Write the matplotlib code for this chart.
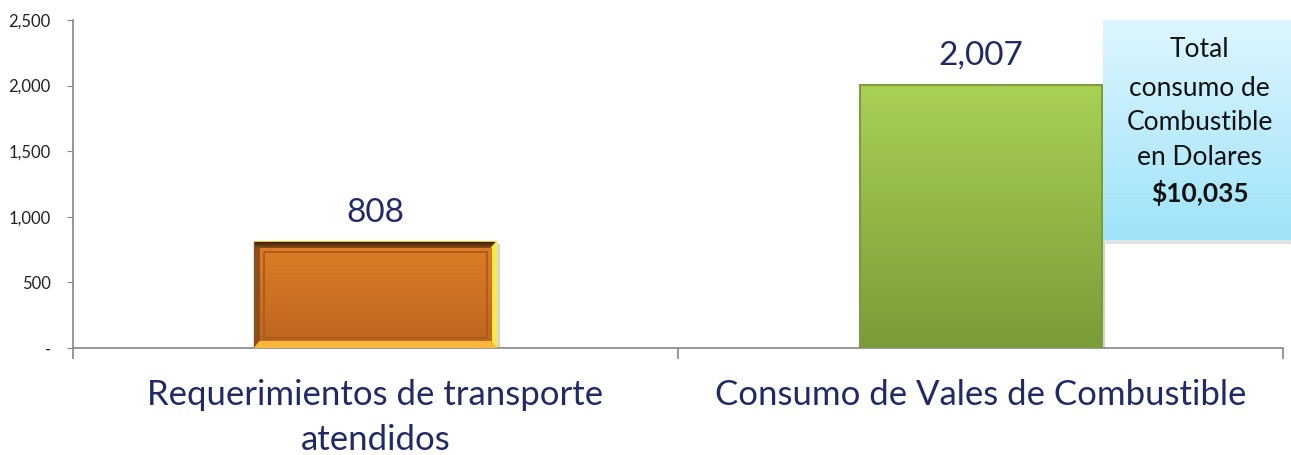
import numpy as np
import matplotlib.pyplot as plt
from matplotlib.patches import Rectangle
from matplotlib.colors import LinearSegmentedColormap

# data
categories = ["Requerimientos de transporte\natendidos", "Consumo de Vales de Combustible"]
values = [808, 2007]
value_labels = ["808", "2,007"]
yticks = [0, 500, 1000, 1500, 2000, 2500]
ytick_labels = ["-", "500", "1,000", "1,500", "2,000", "2,500"]
callout_lines = ["Total", "consumo de", "Combustible", "en Dolares"]
callout_total = "$10,035"

plt.rcParams['font.family'] = ['Lato', 'DejaVu Sans']

navy = "#1F2A66"
axis_grey = "#868686"
bar_width = 0.4


def gradient_fill(ax, x0, x1, y0, y1, top, bottom, zorder=3):
    cmap = LinearSegmentedColormap.from_list("g", [bottom, top])
    grad = np.linspace(0, 1, 256).reshape(-1, 1)
    ax.imshow(grad, cmap=cmap, extent=(x0, x1, y0, y1), origin="lower",
              aspect="auto", zorder=zorder, interpolation="bicubic")


fig = plt.figure(figsize=(12.91, 4.55), dpi=100)
ax = fig.add_axes([73 / 1291, 1 - 348 / 455, 1210 / 1291, 328 / 455])

x = np.arange(len(categories))
ax.set_xlim(-0.5, 1.5)
ax.set_ylim(0, 2500)

# bar 1: orange bevelled frame
xa, xb = x[0] - bar_width / 2, x[0] + bar_width / 2
h = values[0]
ax.add_patch(Rectangle((xa + 0.004, -15), bar_width, h, color="#D5D5D5", zorder=2))
gradient_fill(ax, xa, xb, 0, h, "#F4C23A", "#F7D23B")
bev = 0.009
bh = 50
# left bevel (dark brown)
ax.add_patch(plt.Polygon([[xa, 0], [xa, h], [xa + bev, h - bh], [xa + bev, bh]],
                         color="#8E4E17", zorder=4))
# top bevel (very dark)
gradient_fill(ax, xa, xb, h - bh, h, "#3B200A", "#9A5518", zorder=4)
# right bevel (bright yellow)
ax.add_patch(plt.Polygon([[xb, 0], [xb, h], [xb - bev, h - bh], [xb - bev, bh]],
                         color="#FBE84A", zorder=5))
# bottom bevel (yellow-orange)
ax.add_patch(plt.Polygon([[xa, 0], [xb, 0], [xb - bev, bh], [xa + bev, bh]],
                         color="#F6B73A", zorder=5))
# face
gradient_fill(ax, xa + bev, xb - bev, bh, h - bh, "#DC7C26", "#BF661F", zorder=6)
ax.add_patch(Rectangle((xa + bev + 0.007, bh + 30), bar_width - 2 * bev - 0.014, h - 2 * bh - 60,
                       fill=False, edgecolor="#A65A1C", lw=1.2, zorder=7))

# bar 2: green gradient
xa, xb = x[1] - bar_width / 2, x[1] + bar_width / 2
h = values[1]
ax.add_patch(Rectangle((xa + 0.004, -15), bar_width, h, color="#D5D5D5", zorder=2))
gradient_fill(ax, xa, xb, 0, h, "#A9D154", "#7A9C39")
ax.add_patch(Rectangle((xa, 0), bar_width, h, fill=False, edgecolor="#7E9C3C", lw=1.5, zorder=4))

for xi, v, lab in zip(x, values, value_labels):
    ax.text(xi, v + 110, lab, ha="center", va="bottom", fontsize=24, color=navy)

# axes styling
for s in ["top", "right"]:
    ax.spines[s].set_visible(False)
ax.spines["left"].set_color(axis_grey)
ax.spines["bottom"].set_color(axis_grey)
ax.spines["left"].set_linewidth(1.2)
ax.spines["bottom"].set_linewidth(1.2)
ax.set_yticks(yticks)
ax.set_yticklabels(ytick_labels, fontsize=12, color="#222222")
ax.tick_params(axis="y", length=4, color=axis_grey, pad=12)
ax.set_xticks(x)
ax.set_xticklabels(categories, fontsize=25, color=navy, linespacing=1.5)
ax.tick_params(axis="x", length=0, pad=22)
ax.set_xticks([-0.5, 0.5, 1.5], minor=True)
ax.tick_params(axis="x", which="minor", length=8, color=axis_grey, width=1.2)

# callout box
shadow = fig.add_axes([1106 / 1291, 1 - 244 / 455, 185 / 1291, 220 / 455])
shadow.set_axis_off()
shadow.add_patch(Rectangle((0, 0), 1, 1, color="#C8C8C8", alpha=0.5))
cax = fig.add_axes([1103 / 1291, 1 - 240 / 455, 188 / 1291, 220 / 455])
cax.set_axis_off()
cmap = LinearSegmentedColormap.from_list("c", ["#9FE3FA", "#DDF6FE"])
cax.imshow(np.linspace(0, 1, 256).reshape(-1, 1), cmap=cmap, extent=(0, 1, 0, 1),
           origin="lower", aspect="auto")
cax.set_xlim(0, 1)
cax.set_ylim(0, 1)
line_y = [0.864, 0.69, 0.536, 0.373]
for yy, txt in zip(line_y, callout_lines):
    cax.text(0.515, yy, txt, ha="center", va="center", fontsize=19, color="#111111")
cax.text(0.515, 0.214, callout_total, ha="center", va="center", fontsize=19,
         fontweight="bold", color="#111111")

fig.savefig("out.png", dpi=100)
